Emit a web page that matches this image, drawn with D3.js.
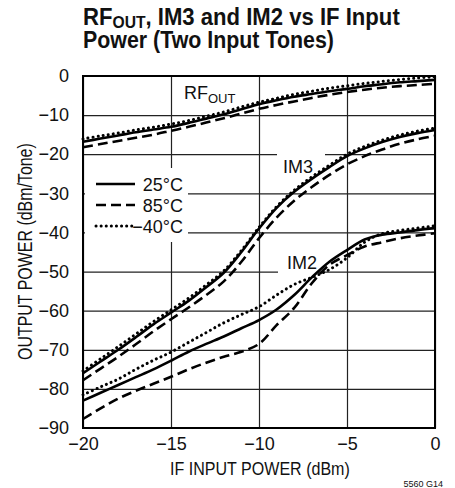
<!DOCTYPE html>
<html>
<head>
<meta charset="utf-8">
<script src="https://cdn.jsdelivr.net/npm/d3@7"></script>
<style>
  body { margin: 0; background: #fff; }
  svg text { font-family: "Liberation Sans", Arial, sans-serif; fill: #111; }
</style>
</head>
<body>
<div id="chart"></div>
<script>
// input power (dBm)
var xs = [-20, -19, -18, -17, -16, -15, -14, -13, -12, -11, -10, -9, -8, -7, -6, -5, -4, -3, -2, -1, 0];

// RFOUT
var rf25 = [-16.8, -16.0, -15.2, -14.4, -13.7, -13.0, -12.0, -10.9, -9.8, -8.5, -7.2, -6.2, -5.3, -4.6, -3.9, -3.3, -2.6, -2.1, -1.6, -1.3, -1.0];
var rf85 = [-18.2, -17.4, -16.6, -15.8, -15.0, -14.0, -13.0, -11.9, -10.8, -9.6, -8.4, -7.4, -6.5, -5.6, -4.8, -4.1, -3.5, -3.0, -2.6, -2.3, -2.0];
var rfm40 = [-16.1, -15.3, -14.6, -13.8, -13.1, -12.3, -11.4, -10.3, -9.2, -7.9, -6.7, -5.7, -4.7, -3.9, -3.1, -2.5, -1.9, -1.4, -0.9, -0.5, -0.2];

// IM3
var im3_25 = [-76.0, -73.0, -70.0, -66.8, -63.5, -60.5, -57.5, -54.0, -50.3, -45.0, -39.0, -33.7, -29.6, -26.3, -23.3, -20.5, -18.5, -16.9, -15.6, -14.6, -13.8];
var im3_85 = [-77.8, -74.8, -71.8, -68.6, -65.3, -62.2, -59.2, -56.0, -52.5, -47.5, -41.5, -36.2, -31.9, -28.4, -25.3, -22.6, -20.5, -18.8, -17.3, -16.2, -15.3];
var im3_m40 = [-75.4, -72.3, -69.2, -66.0, -62.8, -59.8, -56.8, -53.4, -49.8, -44.6, -38.7, -33.4, -29.2, -25.8, -22.8, -20.0, -18.0, -16.4, -15.1, -14.1, -13.3];

// IM2
var im2_25 = [-83.0, -81.0, -79.0, -77.0, -75.0, -72.8, -70.5, -68.5, -66.6, -64.5, -62.4, -59.7, -56.0, -51.5, -47.5, -44.5, -41.8, -40.6, -40.0, -39.4, -38.9];
var im2_85 = [-87.7, -85.0, -82.5, -80.5, -78.7, -76.9, -75.0, -73.3, -71.8, -70.5, -68.5, -63.7, -59.3, -53.0, -48.3, -45.8, -43.6, -42.5, -41.5, -40.8, -40.2];
var im2_m40 = [-81.5, -79.5, -77.5, -75.0, -72.7, -70.6, -68.1, -65.6, -63.1, -61.0, -59.0, -56.0, -53.3, -51.5, -49.5, -46.5, -42.5, -40.3, -39.5, -38.9, -38.3];

var xTicks = [-20, -15, -10, -5, 0];
var yTicks = [0, -10, -20, -30, -40, -50, -60, -70, -80, -90];

var width = 455, height = 488;
var mLeft = 83, mRight = 435, mTop = 76, mBottom = 428;

var svg = d3.select("#chart").append("svg")
    .attr("width", width)
    .attr("height", height);

var x = d3.scaleLinear().domain([-20, 0]).range([mLeft, mRight]);
var y = d3.scaleLinear().domain([-90, 0]).range([mBottom, mTop]);

// squeeze a text horizontally so it spans w pixels (condensed face look)
function fit(g, px, py, w, anchor) {
  var bb = g.node().getBBox();
  var k = w / bb.width;
  var dx = anchor == "middle" ? -w / 2 : 0;
  g.attr("transform", "translate(" + (px + dx) + "," + py + ") scale(" + k + ",1)");
}

// title
var t1 = svg.append("g");
var title = t1.append("text")
    .style("font-size", "24px").style("font-weight", "bold");
title.append("tspan").text("RF");
title.append("tspan").attr("dy", 3).style("font-size", "17px").text("OUT");
title.append("tspan").attr("dy", -3).text(", IM3 and IM2 vs IF Input");
fit(t1, 83, 25, 317);
var t2 = svg.append("g");
t2.append("text")
    .style("font-size", "24px").style("font-weight", "bold")
    .text("Power (Two Input Tones)");
fit(t2, 83, 48, 251);

// grid
svg.append("g")
    .attr("transform", "translate(0," + mBottom + ")")
    .call(d3.axisBottom(x).tickValues(xTicks).tickSize(-(mBottom - mTop)).tickFormat(""))
    .call(g => g.select(".domain").remove())
    .selectAll("line").attr("stroke", "#222").attr("stroke-width", 1.2);
svg.append("g")
    .attr("transform", "translate(" + mLeft + ",0)")
    .call(d3.axisLeft(y).tickValues(yTicks).tickSize(-(mRight - mLeft)).tickFormat(""))
    .call(g => g.select(".domain").remove())
    .selectAll("line").attr("stroke", "#222").attr("stroke-width", 1.2);

// white patches behind labels
svg.append("rect").attr("x", 85).attr("y", 168).attr("width", 103).attr("height", 74).attr("fill", "#fff");
svg.append("rect").attr("x", 277).attr("y", 150).attr("width", 48).attr("height", 26).attr("fill", "#fff");
svg.append("rect").attr("x", 278).attr("y", 250).attr("width", 39).attr("height", 26).attr("fill", "#fff");

// tick labels
svg.append("g")
    .attr("transform", "translate(0," + mBottom + ")")
    .call(d3.axisBottom(x).tickValues(xTicks).tickSize(0).tickPadding(8))
    .call(g => g.select(".domain").remove())
    .selectAll("text").style("font-size", "18px").attr("dy", "0.75em");
svg.append("g")
    .attr("transform", "translate(" + mLeft + ",0)")
    .call(d3.axisLeft(y).tickValues(yTicks).tickSize(0).tickPadding(14))
    .call(g => g.select(".domain").remove())
    .selectAll("text").style("font-size", "18px");
svg.selectAll(".tick text").attr("fill", "#111").attr("font-family", null);

// curves
var line = d3.line()
    .x((d, i) => x(xs[i]))
    .y(d => y(d))
    .curve(d3.curveCatmullRom.alpha(0.5));

var styles = {
  s25: { dash: null, cap: "butt" },
  s85: { dash: "10,5", cap: "butt" },
  sm40: { dash: "0.1,5", cap: "round" }
};

var series = [
  [rf25, "s25"], [rf85, "s85"], [rfm40, "sm40"],
  [im3_25, "s25"], [im3_85, "s85"], [im3_m40, "sm40"],
  [im2_25, "s25"], [im2_85, "s85"], [im2_m40, "sm40"]
];

svg.append("g").selectAll("path")
  .data(series)
  .enter().append("path")
    .attr("d", d => line(d[0]))
    .attr("fill", "none")
    .attr("stroke", "#000")
    .attr("stroke-width", d => d[1] == "sm40" ? 3 : 2.6)
    .attr("stroke-linecap", d => styles[d[1]].cap)
    .attr("stroke-dasharray", d => styles[d[1]].dash);

// frame
svg.append("rect")
    .attr("x", mLeft).attr("y", mTop)
    .attr("width", mRight - mLeft).attr("height", mBottom - mTop)
    .attr("fill", "none").attr("stroke", "#000").attr("stroke-width", 2);

// legend
var legend = [["25°C", "s25"], ["85°C", "s85"], ["−40°C", "sm40"]];
var lg = svg.append("g").selectAll("g")
  .data(legend)
  .enter().append("g")
    .attr("transform", (d, i) => "translate(0," + (184 + i * 21) + ")");
lg.append("line")
    .attr("x1", 96).attr("x2", 135)
    .attr("stroke", "#000")
    .attr("stroke-width", d => d[1] == "sm40" ? 3 : 2.6)
    .attr("stroke-linecap", d => styles[d[1]].cap)
    .attr("stroke-dasharray", d => styles[d[1]].dash);
lg.append("text")
    .attr("x", 183).attr("y", 7)
    .attr("text-anchor", "end")
    .style("font-size", "18px")
    .text(d => d[0]);

// curve labels
var rfl = svg.append("text").attr("x", 184).attr("y", 99).style("font-size", "18px");
rfl.append("tspan").text("RF");
rfl.append("tspan").attr("dy", 4).style("font-size", "13px").text("OUT");
svg.append("text").attr("x", 283).attr("y", 173).style("font-size", "18px").text("IM3");
svg.append("text").attr("x", 287).attr("y", 269).style("font-size", "18px").text("IM2");

// axis titles
var xt = svg.append("g");
xt.append("text").style("font-size", "19px").text("IF INPUT POWER (dBm)");
fit(xt, 260, 475, 180, "middle");
var yt = svg.append("g");
yt.append("text").style("font-size", "20px").text("OUTPUT POWER (dBm/Tone)");
var ybb = yt.node().getBBox();
yt.attr("transform", "translate(32,360) rotate(-90) scale(" + (217 / ybb.width) + ",1)");

svg.append("text")
    .attr("x", 443).attr("y", 487)
    .attr("text-anchor", "end")
    .style("font-size", "9px")
    .text("5560 G14");
</script>
</body>
</html>
